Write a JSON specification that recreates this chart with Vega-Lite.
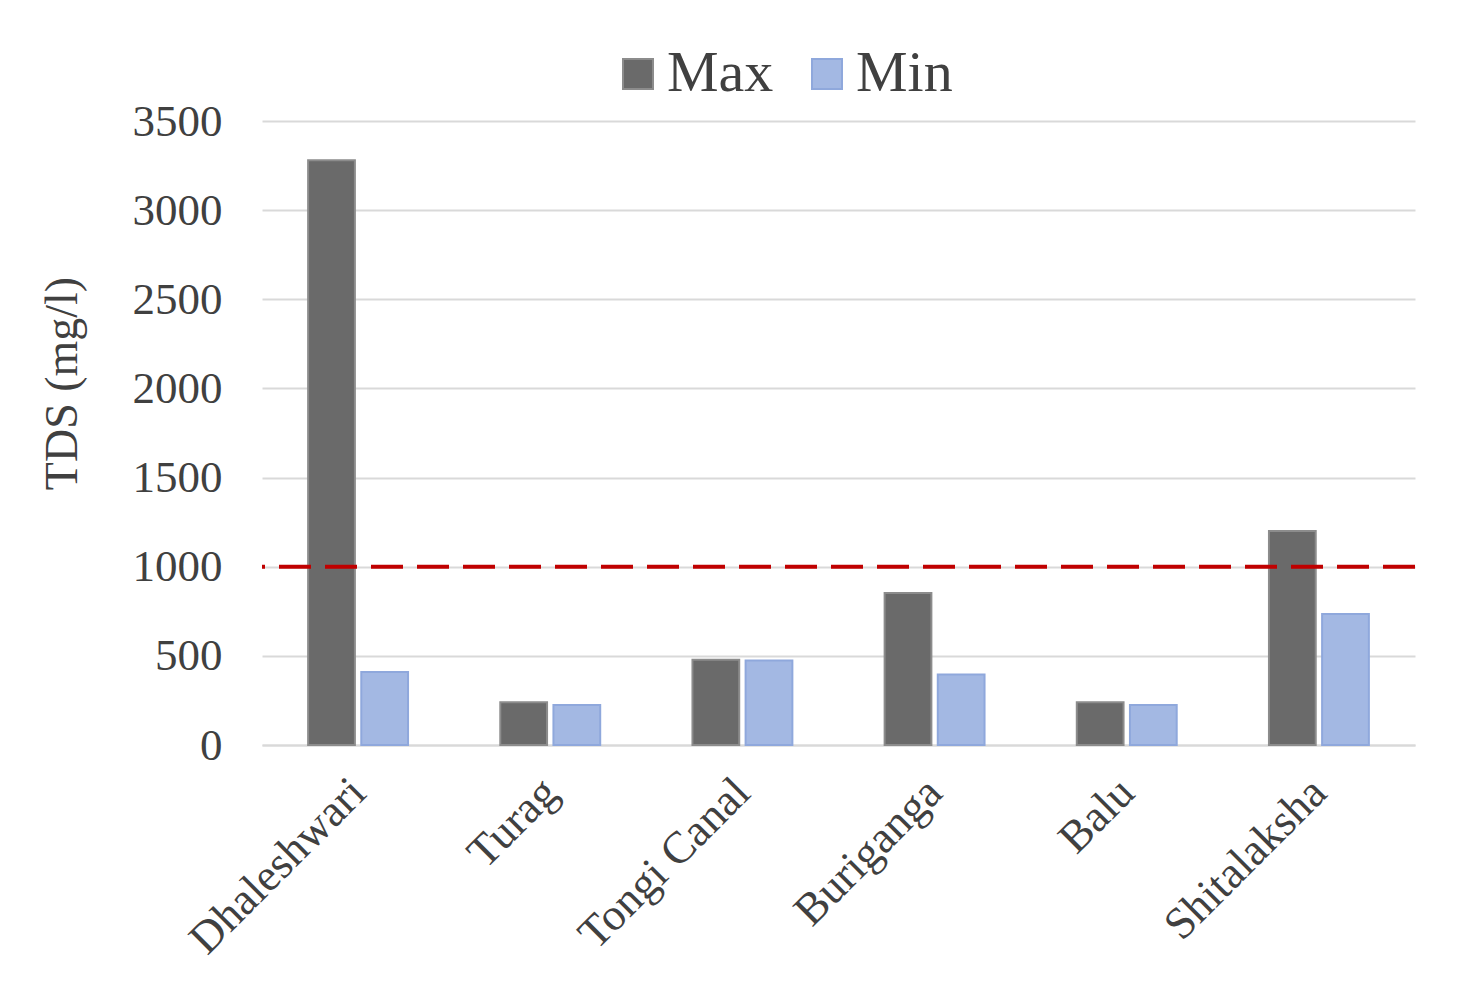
{
  "$schema": "https://vega.github.io/schema/vega-lite/v6.json",
  "width": 1153,
  "height": 624,
  "autosize": {"type": "none"},
  "padding": {"left": 262, "top": 121, "right": 49, "bottom": 263},
  "background": "white",
  "config": {
    "view": {"stroke": null},
    "font": "Liberation Serif",
    "axis": {"labelFont": "Liberation Serif", "titleFont": "Liberation Serif", "labelColor": "#404040", "titleColor": "#404040"},
    "legend": {"labelFont": "Liberation Serif"}
  },
  "data": {
    "values": [
      {"river": "Dhaleshwari", "stat": "Max", "tds": 3280},
      {"river": "Dhaleshwari", "stat": "Min", "tds": 410},
      {"river": "Turag", "stat": "Max", "tds": 240},
      {"river": "Turag", "stat": "Min", "tds": 225},
      {"river": "Tongi Canal", "stat": "Max", "tds": 478},
      {"river": "Tongi Canal", "stat": "Min", "tds": 474},
      {"river": "Buriganga", "stat": "Max", "tds": 852},
      {"river": "Buriganga", "stat": "Min", "tds": 395},
      {"river": "Balu", "stat": "Max", "tds": 240},
      {"river": "Balu", "stat": "Min", "tds": 225},
      {"river": "Shitalaksha", "stat": "Max", "tds": 1200},
      {"river": "Shitalaksha", "stat": "Min", "tds": 735}
    ]
  },
  "layer": [
    {
      "mark": {"type": "bar", "strokeWidth": 2},
      "encoding": {
        "x": {
          "field": "river", "type": "nominal", "sort": null,
          "scale": {"paddingInner": 0.48, "paddingOuter": 0.24},
          "axis": {
            "title": null, "labelAngle": -45, "labelFontSize": 45, "labelPadding": 40, "labelLimit": 0,
            "ticks": false, "domain": true, "domainColor": "#d9d9d9", "domainWidth": 2,
            "labelAlign": "right", "labelBaseline": "middle"
          }
        },
        "xOffset": {"field": "stat", "type": "nominal", "scale": {"paddingInner": 0.12}},
        "y": {
          "field": "tds", "type": "quantitative",
          "scale": {"domain": [0, 3500]},
          "axis": {
            "title": "TDS (mg/l)", "titleFontSize": 46, "titleFontWeight": "normal",
            "titleAngle": -90, "titleX": -176, "titleY": 262, "titleAlign": "center", "titleBaseline": "bottom",
            "values": [0, 500, 1000, 1500, 2000, 2500, 3000, 3500], "format": "d",
            "labelFontSize": 45, "labelPadding": 40, "ticks": false, "domain": false,
            "gridColor": "#d9d9d9", "gridWidth": 2
          }
        },
        "color": {
          "field": "stat", "type": "nominal",
          "scale": {"domain": ["Max", "Min"], "range": ["#6a6a6a", "#a3b8e3"]},
          "legend": {
            "title": null, "orient": "none", "direction": "horizontal",
            "legendX": 347, "legendY": -76,
            "labelFontSize": 58, "labelColor": "#404040", "symbolType": "square",
            "symbolSize": 900, "symbolStrokeWidth": 2, "columnPadding": 24, "labelOffset": 0
          }
        },
        "stroke": {
          "field": "stat", "type": "nominal",
          "scale": {"domain": ["Max", "Min"], "range": ["#8c8c8c", "#8fa8dc"]},
          "legend": null
        }
      }
    },
    {
      "data": {"values": [{"limit": 1000}]},
      "mark": {"type": "rule", "color": "#c00000", "strokeWidth": 4, "strokeDash": [32, 14]},
      "encoding": {"y": {"field": "limit", "type": "quantitative"}}
    }
  ]
}
